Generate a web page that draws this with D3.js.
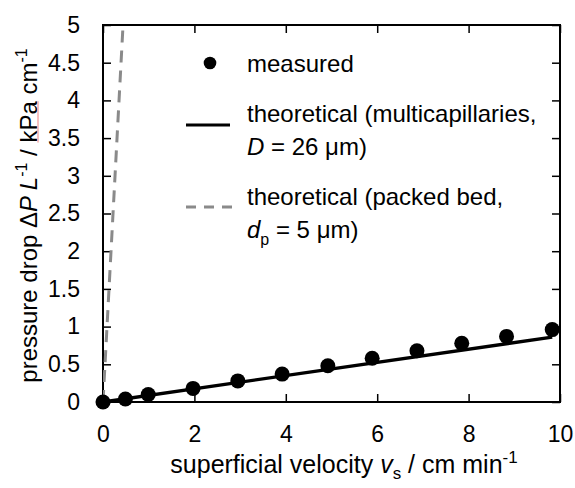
<html>
<head>
<style>
  body { margin: 0; background: white; }
  text { font-family: "Liberation Sans", Arial, sans-serif; }
</style>
</head>
<body>
<svg id="chart" width="575" height="488"></svg>
<script src="https://cdn.jsdelivr.net/npm/d3@7"></script>
<script>
// measured points (superficial velocity, pressure drop)
var velMeasured = [0, 0.49, 0.99, 1.97, 2.95, 3.92, 4.92, 5.89, 6.87, 7.85, 8.83, 9.83]
var dpMeasured  = [0, 0.04, 0.10, 0.18, 0.28, 0.37, 0.48, 0.58, 0.68, 0.78, 0.87, 0.96]

// theoretical lines (end points)
var velCapillary = [0, 9.83]
var dpCapillary  = [0, 0.86]
var velPacked = [0, 0.5]
var dpPacked  = [0, 5.7]

var xTicks = [0, 2, 4, 6, 8, 10]
var yTicks = [0, 0.5, 1, 1.5, 2, 2.5, 3, 3.5, 4, 4.5, 5]

let svg = d3.select('#chart')

let pLeft = 103, pRight = 560, pTop = 25, pBottom = 402
let fs = 24      // label / legend font size
let fsTick = 23

let x = d3.scaleLinear().domain([0, 10]).range([pLeft, pRight])
let y = d3.scaleLinear().domain([0, 5]).range([pBottom, pTop])

svg.append('defs').append('clipPath').attr('id', 'clip')
  .append('rect').attr('x', pLeft).attr('y', pTop).attr('width', pRight - pLeft).attr('height', pBottom - pTop)

// axes, ticks pointing inward on all four sides
function styleAxis(g) {
  g.selectAll('.domain').remove()
  g.selectAll('.tick line').attr('stroke', 'black').attr('stroke-width', 1.5)
  g.selectAll('text').attr('font-size', fsTick).attr('fill', 'black')
}

svg.append('g').attr('transform', `translate(0,${pBottom})`)
  .call(d3.axisBottom(x).tickValues(xTicks).tickSizeInner(-8).tickSizeOuter(0).tickPadding(24).tickFormat(d3.format('d')))
  .call(styleAxis)

svg.append('g').attr('transform', `translate(0,${pTop})`)
  .call(d3.axisTop(x).tickValues(xTicks).tickSizeInner(-8).tickSizeOuter(0).tickFormat(''))
  .call(styleAxis)

svg.append('g').attr('transform', `translate(${pLeft},0)`)
  .call(d3.axisLeft(y).tickValues(yTicks).tickSizeInner(-8).tickSizeOuter(0).tickPadding(23).tickFormat(d => d))
  .call(styleAxis)

svg.append('g').attr('transform', `translate(${pRight},0)`)
  .call(d3.axisRight(y).tickValues(yTicks).tickSizeInner(-8).tickSizeOuter(0).tickFormat(''))
  .call(styleAxis)

svg.append('rect')
  .attr('x', pLeft).attr('y', pTop).attr('width', pRight - pLeft).attr('height', pBottom - pTop)
  .attr('fill', 'none').attr('stroke', 'black').attr('stroke-width', 2)

let line = d3.line().x(d => x(d[0])).y(d => y(d[1]))

let plot = svg.append('g').attr('clip-path', 'url(#clip)')

// measured points
svg.append('g').selectAll('circle')
  .data(d3.zip(velMeasured, dpMeasured))
  .enter().append('circle')
  .attr('cx', d => x(d[0])).attr('cy', d => y(d[1])).attr('r', 7.5)
  .attr('fill', 'black')

// multicapillary theory
svg.append('path')
  .attr('d', line(d3.zip(velCapillary, dpCapillary)))
  .attr('stroke', 'black').attr('stroke-width', 3.3).attr('fill', 'none')

// packed bed theory
plot.append('path')
  .attr('d', line(d3.zip(velPacked, dpPacked)))
  .attr('stroke', '#8a8a8a').attr('stroke-width', 3).attr('fill', 'none')
  .attr('stroke-dasharray', '12,8')

// legend
let lg = svg.append('g')
lg.append('circle').attr('cx', 210).attr('cy', 63).attr('r', 6.3).attr('fill', 'black')
lg.append('text').attr('x', 247).attr('y', 72).attr('font-size', fs).text('measured')

lg.append('line').attr('x1', 186).attr('x2', 230).attr('y1', 125).attr('y2', 125)
  .attr('stroke', 'black').attr('stroke-width', 3)
lg.append('text').attr('x', 247).attr('y', 122).attr('font-size', fs).text('theoretical (multicapillaries,')
let t2 = lg.append('text').attr('x', 247).attr('y', 155).attr('font-size', fs)
t2.append('tspan').attr('font-style', 'italic').text('D')
t2.append('tspan').text(' = 26 μm)')

lg.append('line').attr('x1', 186).attr('x2', 234).attr('y1', 207).attr('y2', 207)
  .attr('stroke', '#8a8a8a').attr('stroke-width', 3).attr('stroke-dasharray', '10,8')
lg.append('text').attr('x', 247).attr('y', 205).attr('font-size', fs).text('theoretical (packed bed,')
let t3 = lg.append('text').attr('x', 247).attr('y', 238).attr('font-size', fs)
t3.append('tspan').attr('font-style', 'italic').text('d')
t3.append('tspan').attr('font-size', 16).attr('dy', 7).text('p')
t3.append('tspan').attr('dy', -7).text(' = 5 μm)')

// x label
let xl = svg.append('text').attr('x', 344).attr('y', 473).attr('text-anchor', 'middle').attr('font-size', 25)
xl.append('tspan').text('superficial velocity ')
xl.append('tspan').attr('font-style', 'italic').text('v')
xl.append('tspan').attr('font-size', 17).attr('dy', 6).text('s')
xl.append('tspan').attr('dy', -6).text(' / cm min')
xl.append('tspan').attr('font-size', 17).attr('dy', -10).text('-1')

// y label
let ylg = svg.append('g').attr('transform', 'translate(37,215.5) rotate(-90)')
let yl = ylg.append('text').attr('text-anchor', 'middle').attr('font-size', fs)
yl.append('tspan').text('pressure drop Δ')
yl.append('tspan').attr('font-style', 'italic').text('P L')
yl.append('tspan').attr('font-size', 16).attr('dy', -10).text('-1')
yl.append('tspan').attr('dy', 10).text(' / kPa cm')
yl.append('tspan').attr('font-size', 16).attr('dy', -10).text('-1')

// spell-check style underline under "kPa" as in the source figure
let full = yl.text()
let k = full.indexOf('kPa')
let n = yl.node()
let p0 = n.getStartPositionOfChar(k)
let p1 = n.getEndPositionOfChar(k + 2)
ylg.append('line')
  .attr('x1', p0.x).attr('x2', p1.x).attr('y1', p0.y + 1).attr('y2', p0.y + 1)
  .attr('stroke', '#f08080').attr('stroke-width', 1)
</script>
</body>
</html>
